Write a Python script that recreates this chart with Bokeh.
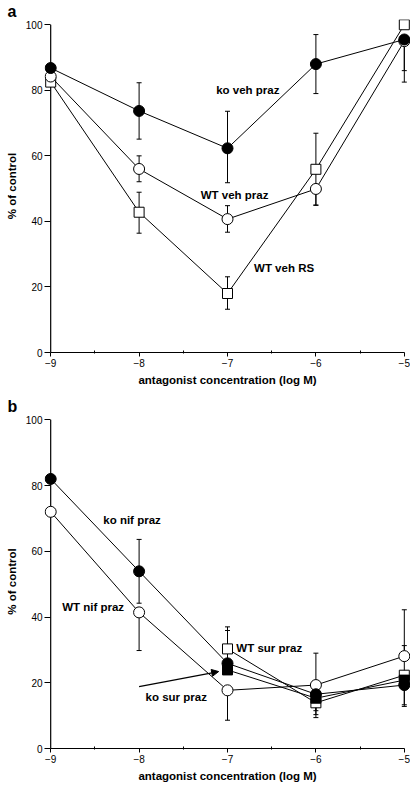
from bokeh.plotting import figure
from bokeh.models import (ColumnDataSource, Whisker, TeeHead, Label, Arrow,
                          NormalHead, Range1d, FixedTicker, Title)
from bokeh.layouts import column
from bokeh.embed import file_html
from bokeh.resources import INLINE

# ---------------- data ----------------
conc = [-9, -8, -7, -6, -5]
conc_sur = [-7, -6, -5]

# panel a
ko_veh_praz = [86.8, 73.7, 62.3, 88.0, 95.5]
ko_veh_praz_up = [0, 8.6, 11.3, 9.0, 0]
ko_veh_praz_dn = [0, 8.6, 10.5, 9.0, 13.0]

wt_veh_praz = [84.2, 56.0, 40.7, 49.9, 95.0]
wt_veh_praz_up = [0, 4.0, 4.1, 0, 0]
wt_veh_praz_dn = [0, 3.9, 4.0, 4.9, 9.0]

wt_veh_rs = [82.5, 42.8, 18.0, 55.9, 100.0]
wt_veh_rs_up = [0, 6.1, 5.1, 11.0, 0]
wt_veh_rs_dn = [0, 6.4, 4.8, 11.0, 0]

# panel b
ko_nif_praz = [82.0, 53.9, 25.9, 16.5, 19.3]
ko_nif_praz_up = [0, 9.7, 10.0, 0, 0]
ko_nif_praz_dn = [0, 9.7, 0, 5.0, 6.5]

wt_nif_praz = [72.0, 41.4, 17.7, 19.3, 28.1]
wt_nif_praz_up = [0, 0, 0, 9.7, 14.1]
wt_nif_praz_dn = [0, 11.6, 9.1, 0, 0]

wt_sur_praz = [30.3, 13.9, 22.3]
wt_sur_praz_up = [6.7, 0, 9.0]
wt_sur_praz_dn = [0, 4.5, 0]

ko_sur_praz = [23.9, 15.3, 20.8]
ko_sur_praz_up = [0, 0, 0]
ko_sur_praz_dn = [0, 5.0, 7.5]

y_ticks = [0, 20, 40, 60, 80, 100]
x_ticks = [-9, -8, -7, -6, -5]
x_title = "antagonist concentration (log M)"
y_title = "% of control"

FONT = "Liberation Sans"
PAD = 0.07


def make_fig(height, top, bottom, tag):
    p = figure(width=410, height=height, output_backend="svg", toolbar_location=None,
               x_range=Range1d(x_ticks[0] - PAD, x_ticks[-1] + PAD),
               y_range=Range1d(y_ticks[0], y_ticks[-1] + 1.6),
               min_border_left=44, min_border_right=0,
               min_border_top=top, min_border_bottom=bottom)
    p.title = Title(text=tag, align="left", offset=-37, standoff=0,
                    text_font=FONT, text_font_size="16px", text_font_style="bold",
                    text_color="black")
    p.outline_line_color = None
    p.grid.grid_line_color = None
    p.background_fill_color = "white"
    p.xaxis.ticker = FixedTicker(ticks=x_ticks,
                                 minor_ticks=[-8.5, -7.5, -6.5, -5.5])
    p.yaxis.ticker = FixedTicker(ticks=y_ticks)
    p.xaxis.bounds = (x_ticks[0], x_ticks[-1])
    for ax in (p.xaxis, p.yaxis):
        ax.axis_line_color = "black"
        ax.axis_line_width = 1.2
        ax.major_tick_line_color = "black"
        ax.major_label_text_font = FONT
        ax.major_label_text_font_size = "10px"
        ax.major_label_text_color = "black"
        ax.axis_label_text_font = FONT
        ax.axis_label_text_font_size = "11.5px"
        ax.axis_label_text_font_style = "bold"
        ax.axis_label_text_color = "black"
    p.xaxis.major_tick_in = 0
    p.xaxis.major_tick_out = 4
    p.xaxis.minor_tick_line_color = "black"
    p.xaxis.minor_tick_in = 2
    p.xaxis.minor_tick_out = 1
    # y axis: the visible axis line sits at x = -9 (drawn below); ticks reach to it
    p.yaxis.axis_line_color = None
    p.yaxis.major_tick_in = 6
    p.yaxis.major_tick_out = 0
    p.yaxis.minor_tick_line_color = None
    p.xaxis.major_label_standoff = 2
    p.yaxis.major_label_standoff = 2
    p.xaxis.axis_label_standoff = 4
    p.yaxis.axis_label_standoff = 5
    p.xaxis.axis_label = x_title
    p.yaxis.axis_label = y_title
    p.segment(x0=[x_ticks[0]], y0=[y_ticks[0]], x1=[x_ticks[0]], y1=[y_ticks[-1]],
              line_color="black", line_width=1.2)
    return p


def add_series(p, xs, ys, up, dn, marker, filled):
    src = ColumnDataSource(dict(x=xs, y=ys))
    p.line("x", "y", source=src, line_color="black", line_width=1)
    ux = [x for x, u in zip(xs, up) if u > 0]
    uy = [y for y, u in zip(ys, up) if u > 0]
    uu = [y + u for y, u in zip(ys, up) if u > 0]
    dx = [x for x, d in zip(xs, dn) if d > 0]
    dy = [y for y, d in zip(ys, dn) if d > 0]
    dd = [y - d for y, d in zip(ys, dn) if d > 0]
    fill = "black" if filled else "white"
    size = 11 if marker == "circle" else 10
    p.scatter("x", "y", source=src, marker=marker, size=size,
              fill_color=fill, line_color="black", line_width=1)
    if ux:
        s = ColumnDataSource(dict(x=ux, lo=uy, hi=uu))
        p.add_layout(Whisker(source=s, base="x", lower="lo", upper="hi",
                             line_color="black", line_width=1,
                             upper_head=TeeHead(size=5, line_color="black", line_width=1),
                             lower_head=None))
    if dx:
        s = ColumnDataSource(dict(x=dx, lo=dd, hi=dy))
        p.add_layout(Whisker(source=s, base="x", lower="lo", upper="hi",
                             line_color="black", line_width=1,
                             lower_head=TeeHead(size=5, line_color="black", line_width=1),
                             upper_head=None))


def label(p, x, y, text, align="center"):
    p.add_layout(Label(x=x, y=y, text=text, text_font=FONT, text_font_size="11.5px",
                       text_font_style="bold", text_color="black",
                       text_align=align, text_baseline="middle"))


# ---------------- panel a ----------------
pa = make_fig(395, 15, 43, "a")
add_series(pa, conc, wt_veh_rs, wt_veh_rs_up, wt_veh_rs_dn, "square", False)
add_series(pa, conc, wt_veh_praz, wt_veh_praz_up, wt_veh_praz_dn, "circle", False)
add_series(pa, conc, ko_veh_praz, ko_veh_praz_up, ko_veh_praz_dn, "circle", True)
label(pa, -6.77, 80.1, "ko veh praz")
label(pa, -6.92, 48.0, "WT veh praz")
label(pa, -6.36, 25.7, "WT veh RS")

# ---------------- panel b ----------------
pb = make_fig(390, 16, 37, "b")
add_series(pb, conc, wt_nif_praz, wt_nif_praz_up, wt_nif_praz_dn, "circle", False)
add_series(pb, conc, ko_nif_praz, ko_nif_praz_up, ko_nif_praz_dn, "circle", True)
add_series(pb, conc_sur, wt_sur_praz, wt_sur_praz_up, wt_sur_praz_dn, "square", False)
add_series(pb, conc_sur, ko_sur_praz, ko_sur_praz_up, ko_sur_praz_dn, "square", True)
label(pb, -8.08, 69.5, "ko nif praz")
label(pb, -8.52, 42.9, "WT nif praz")
label(pb, -6.90, 30.7, "WT sur praz", align="left")
label(pb, -7.58, 15.6, "ko sur praz")
pb.add_layout(Arrow(end=NormalHead(size=7, fill_color="black", line_color="black"),
                    x_start=-8.0, y_start=18.8, x_end=-7.1, y_end=23.4,
                    line_color="black", line_width=1.2))

layout = column(pa, pb, spacing=0)
open("out.html", "w").write(file_html(layout, INLINE))
